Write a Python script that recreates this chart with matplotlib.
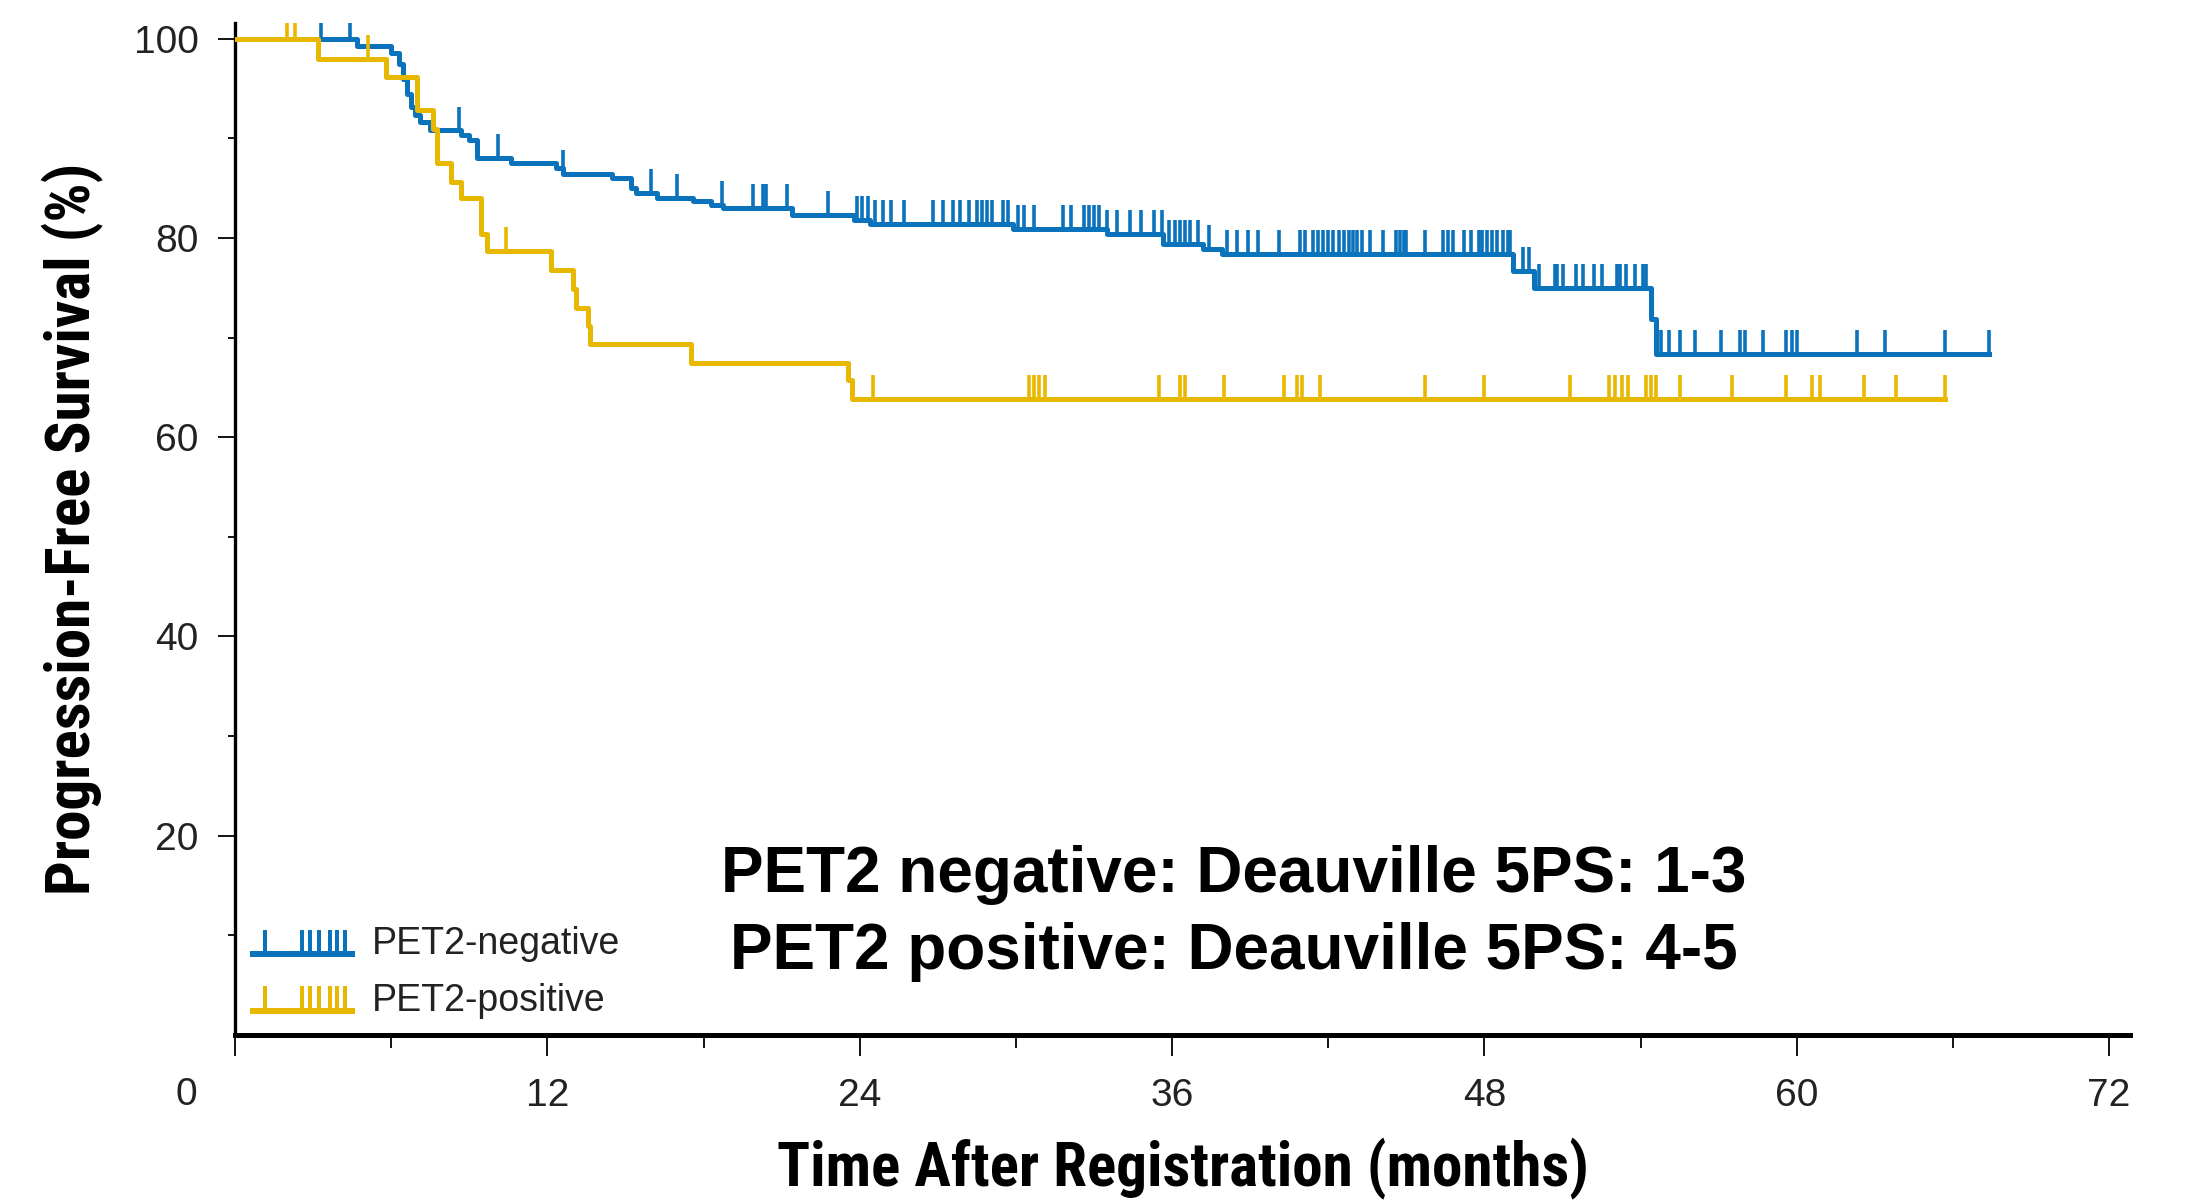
import matplotlib
matplotlib.use('Agg')
import matplotlib.pyplot as plt
from matplotlib import font_manager
from matplotlib.legend_handler import HandlerBase
from matplotlib.lines import Line2D
import numpy as np

# PET2-negative curve: event times (months) and survival (%) after each step
neg_t = [4.7, 6.0, 6.3, 6.45, 6.6, 6.75, 6.9, 7.1, 7.5, 8.7, 9.0, 9.3, 10.6, 12.35,
         12.6, 14.5, 15.2, 15.4, 16.2, 17.6, 18.3, 18.75, 21.4, 23.8, 24.4, 29.9,
         33.5, 35.65, 37.2, 37.9, 49.1, 49.9, 54.4, 54.6]
neg_s = [99.3, 98.6, 97.5, 96.0, 94.5, 93.2, 92.3, 91.6, 90.8, 90.3, 89.8, 88.0, 87.5, 87.0,
         86.4, 86.0, 85.0, 84.5, 84.0, 83.7, 83.3, 83.0, 82.3, 81.8, 81.4, 80.9,
         80.4, 79.4, 78.9, 78.4, 76.7, 75.0, 71.9, 68.4]
neg_cens = [3.3, 4.4, 8.6, 10.1, 12.6, 16.0, 17.0, 18.7, 19.9, 20.3, 20.4, 21.2, 22.8,
            23.9, 24.1, 24.3, 24.6, 24.9, 25.2, 25.7, 26.8, 27.2, 27.6, 27.85, 28.2, 28.5,
            28.7, 28.9, 29.1, 29.5, 29.7, 30.1, 30.3, 30.7, 31.8, 32.1, 32.6, 32.8, 33.0,
            33.2, 33.5, 33.9, 34.4, 34.8, 35.3, 35.6, 35.9, 36.1, 36.3, 36.5, 36.7, 37.0,
            37.4, 38.1, 38.5, 38.9, 39.3, 40.1, 40.9, 41.1, 41.4, 41.6, 41.8, 42.0, 42.2,
            42.4, 42.6, 42.8, 42.95, 43.1, 43.3, 43.6, 44.1, 44.6, 44.75, 44.9, 45.0, 45.7,
            46.4, 46.6, 46.8, 47.2, 47.5, 47.8, 47.9, 48.1, 48.3, 48.5, 48.7, 48.9, 49.0,
            49.5, 49.7, 50.1, 50.7, 50.8, 51.0, 51.5, 51.8, 52.2, 52.5, 53.1, 53.2, 53.45,
            53.8, 54.1, 54.2, 54.45, 54.8, 55.1, 55.5, 56.1, 57.1, 57.8, 58.0, 58.7, 59.6,
            59.8, 60.0, 62.3, 63.4, 65.7, 67.4]

# PET2-positive curve
pos_t = [3.2, 5.8, 7.0, 7.6, 7.75, 8.3, 8.7, 9.45, 9.7, 12.15, 13.0, 13.1, 13.55, 13.65,
         17.5, 23.55, 23.7]
pos_s = [98.0, 96.2, 92.9, 90.9, 87.5, 85.6, 84.0, 80.4, 78.7, 76.8, 74.9, 73.0, 71.2, 69.4,
         67.5, 65.7, 63.8]
pos_cens = [2.0, 2.3, 5.1, 10.4, 24.5, 30.5, 30.7, 30.9, 31.1, 35.5, 36.3, 36.5, 38.0,
            40.3, 40.8, 41.0, 41.7, 45.7, 48.0, 51.3, 52.8, 53.0, 53.3, 53.5, 54.2, 54.4,
            54.6, 55.5, 57.5, 59.6, 60.6, 60.9, 62.6, 63.8, 65.7]

labels = ['PET2-negative', 'PET2-positive']
colors = ['#0B73BC', '#E8B700']
x_major = [0, 12, 24, 36, 48, 60, 72]
y_major = [20, 40, 60, 80, 100]

names = {f.name for f in font_manager.fontManager.ttflist}
narrow = 'Liberation Sans'
for cand in ['Liberation Sans Narrow', 'Roboto Condensed', 'DejaVu Sans Condensed']:
    if cand in names:
        narrow = cand
        break

plt.rcParams['font.family'] = ['Liberation Sans', 'DejaVu Sans']


class CensorHandler(HandlerBase):
    marks = [0.14, 0.49, 0.57, 0.66, 0.76, 0.83, 0.90]

    def create_artists(self, legend, orig_handle, xdescent, ydescent, width, height,
                       fontsize, trans):
        c = orig_handle.get_color()
        lw = orig_handle.get_linewidth()
        y0 = -ydescent
        arts = [Line2D([-xdescent, -xdescent + width], [y0, y0], color=c, lw=lw * 1.2,
                       solid_capstyle='butt', transform=trans)]
        for f in self.marks:
            x = -xdescent + f * width
            arts.append(Line2D([x, x], [y0, y0 + 0.85 * height], color=c, lw=lw * 0.8,
                               transform=trans))
        return arts


def step_data(t, s, end):
    tt = np.r_[0, t, end]
    ss = np.r_[100, s, s[-1]]
    return tt, ss


def surv_at(t, s, c):
    ss = np.r_[100, s]
    idx = np.searchsorted(t, c, side='right')
    return ss[idx]


fig = plt.figure(figsize=(21.92, 12.03), dpi=100)
ax = fig.add_axes([0.1072, 0.1397, 0.8645, 0.8413])

handles = []
for t, s, cens, lab, col, z in [(neg_t, neg_s, neg_cens, labels[0], colors[0], 2),
                                (pos_t, pos_s, pos_cens, labels[1], colors[1], 3)]:
    tt, ss = step_data(t, s, max(cens))
    ln, = ax.step(tt, ss, where='post', color=col, lw=3.6, zorder=z, label=lab)
    cy = surv_at(np.array(t), s, np.array(cens))
    ax.vlines(cens, cy, cy + 2.4, color=col, lw=2.6, zorder=z)
    handles.append(ln)

ax.set_xlim(0, 72.8)
ax.set_ylim(0, 101.6)
ax.spines['top'].set_visible(False)
ax.spines['right'].set_visible(False)
ax.spines['left'].set_linewidth(2.4)
ax.spines['bottom'].set_linewidth(3.6)

ax.set_xticks(x_major)
ax.set_xticks([6, 18, 30, 42, 54, 66], minor=True)
ax.set_xticklabels([''] + [str(v) for v in x_major[1:]])
ax.set_yticks(y_major)
ax.set_yticks([10, 30, 50, 70, 90], minor=True)
ax.set_yticklabels([str(v) for v in y_major])
ax.tick_params(axis='x', which='major', length=15, width=1.3, pad=16, labelsize=28,
               labelcolor='#222222')
ax.tick_params(axis='x', which='minor', length=9, width=1.3)
ax.tick_params(axis='y', which='major', length=12, width=1.3, pad=14, labelsize=28,
               labelcolor='#222222')
ax.tick_params(axis='y', which='minor', length=5, width=1.3)
ax.annotate('0', xy=(0, 0), xycoords=('data', 'axes fraction'), xytext=(-35, -43),
            textcoords='offset points', ha='center', va='center', fontsize=28,
            color='#222222')

ax.set_xlabel('Time After Registration (months)', family=[narrow, 'DejaVu Sans'],
              fontweight='bold', fontsize=44, va='center')
ax.xaxis.set_label_coords(0.5, -0.132)
ax.set_ylabel('Progression-Free Survival (%)', family=[narrow, 'DejaVu Sans'],
              fontweight='bold', fontsize=44, va='center')
ax.yaxis.set_label_coords(-0.0855, 0.5)

ax.text(0.527, 0.158, 'PET2 negative: Deauville 5PS: 1-3', transform=ax.transAxes,
        ha='center', va='center', fontsize=46, fontweight='bold', color='black')
ax.text(0.527, 0.082, 'PET2 positive: Deauville 5PS: 4-5', transform=ax.transAxes,
        ha='center', va='center', fontsize=46, fontweight='bold', color='black')

ax.legend(handles=handles, labels=labels, loc='lower left', bbox_to_anchor=(0.008, 0.016),
          frameon=False, fontsize=27, handlelength=2.8, handletextpad=0.45,
          labelspacing=0.55, borderpad=0, borderaxespad=0,
          handler_map={Line2D: CensorHandler()}, labelcolor='#222222')

fig.savefig('out.png', dpi=100)
